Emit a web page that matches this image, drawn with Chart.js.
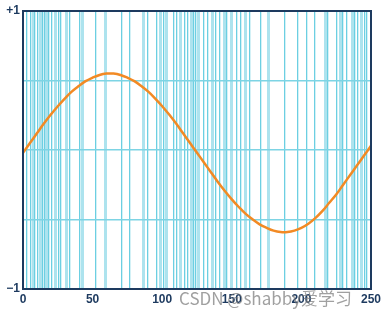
<!DOCTYPE html>
<html>
<head>
<meta charset="utf-8">
<script src="https://cdn.jsdelivr.net/npm/chart.js@4/dist/chart.umd.min.js"></script>
<style>
  html, body { margin: 0; padding: 0; background: #fff; }
  #wrap { position: relative; width: 386px; height: 317px; }
  #mark {
    position: absolute; left: 179px; top: 285px;
    font: 17px "Noto Sans CJK SC", "DejaVu Sans", sans-serif;
    color: rgba(120, 120, 120, 0.7); white-space: nowrap; pointer-events: none;
  }
</style>
</head>
<body>
<div id="wrap">
  <canvas id="chart" width="386" height="317"></canvas>
  <div id="mark">CSDN @shabby爱学习</div>
</div>
<script>
// curve samples (every 5 units)
const xs = [0, 5, 10, 15, 20, 25, 30, 35, 40, 45, 50, 55, 60, 65, 70, 75, 80, 85, 90, 95, 100,
  105, 110, 115, 120, 125, 130, 135, 140, 145, 150, 155, 160, 165, 170, 175, 180, 185, 190, 195, 200,
  205, 210, 215, 220, 225, 230, 235, 240, 245, 250];
const ys = [-0.02, 0.05, 0.12, 0.19, 0.255, 0.315, 0.37, 0.42, 0.46, 0.495, 0.52, 0.54, 0.55, 0.55, 0.54, 0.52, 0.495, 0.46, 0.42, 0.37, 0.315,
  0.255, 0.19, 0.12, 0.05, -0.02, -0.09, -0.16, -0.23, -0.295, -0.355, -0.41, -0.46, -0.50, -0.535, -0.56, -0.58, -0.59, -0.59, -0.58, -0.56,
  -0.53, -0.49, -0.44, -0.38, -0.32, -0.25, -0.18, -0.11, -0.04, 0.03];

// x-axis labels
const xLabels = [0, 50, 100, 150, 200, 250];

// irregular vertical grid lines (x values)
const gridX = [2.9, 5.7, 7.2, 8.6, 10.8, 12.9, 14.4, 15.8, 17.2, 18.7, 20.8, 23.7, 25.9, 27.3, 30.9, 33.8,
  40.7, 43.1, 52.4, 59.6, 71.1, 76.7,
  86.9, 89.8, 96.3, 99.1, 101.3, 103.4, 108.5, 110.6, 112.8, 116.4, 118.5, 120.7, 122.8,
  124.3, 126.4, 130.0, 132.9, 135.8, 138.6, 141.5, 144.4, 146.6, 150.1, 153.7, 156.6, 159.5, 163.1,
  170.9, 176.7, 188.2, 197.6, 204.0,
  209.8, 217.0, 219.1, 225.6, 228.4, 229.9, 232.8, 236.4, 238.5, 240.7, 243.5, 245.7, 247.1];

const navy = '#1d3a5f';

const frame = {
  id: 'frame',
  afterDraw(chart) {
    const a = chart.chartArea, c = chart.ctx;
    c.save();
    c.strokeStyle = navy;
    c.lineWidth = 2;
    c.strokeRect(a.left, a.top, a.right - a.left, a.bottom - a.top);
    c.restore();
  }
};

new Chart(document.getElementById('chart'), {
  type: 'line',
  data: {
    datasets: [{
      data: xs.map((x, i) => ({ x: x, y: ys[i] })),
      borderColor: '#f28a24',
      borderWidth: 2.5,
      pointRadius: 0,
      tension: 0.4,
      fill: false
    }]
  },
  options: {
    responsive: false,
    animation: false,
    layout: { padding: { top: 11, right: 15, left: 0, bottom: 0 } },
    plugins: { legend: { display: false }, tooltip: { enabled: false } },
    scales: {
      x: {
        type: 'linear',
        min: 0,
        max: 250,
        afterBuildTicks(scale) {
          scale.ticks = xLabels.concat(gridX).sort((a, b) => a - b).map(v => ({ value: v }));
        },
        afterFit(scale) { scale.height = 28; },
        border: { display: false },
        grid: {
          drawTicks: false,
          color: ctx => xLabels.includes(ctx.tick && ctx.tick.value) ? 'rgba(0,0,0,0)' : (ctx.index % 3 === 0 ? '#ade3ee' : '#6ccfe2'),
          lineWidth: ctx => ctx.index % 3 === 0 ? 3 : 1.3
        },
        ticks: {
          autoSkip: false,
          maxRotation: 0,
          padding: 3,
          color: navy,
          font: { family: 'Liberation Sans', size: 12, weight: 'bold' },
          callback: v => xLabels.includes(v) ? String(v) : ''
        }
      },
      y: {
        min: -1,
        max: 1,
        afterFit(scale) { scale.width = 23; },
        border: { display: false },
        grid: { drawTicks: false, color: '#7dd4e4', lineWidth: 1.5 },
        ticks: {
          stepSize: 0.5,
          padding: 3,
          color: navy,
          font: { family: 'Liberation Sans', size: 12, weight: 'bold' },
          callback: v => v === 1 ? '+1' : (v === -1 ? '\u22121' : '')
        }
      }
    }
  },
  plugins: [frame]
});
</script>
</body>
</html>
